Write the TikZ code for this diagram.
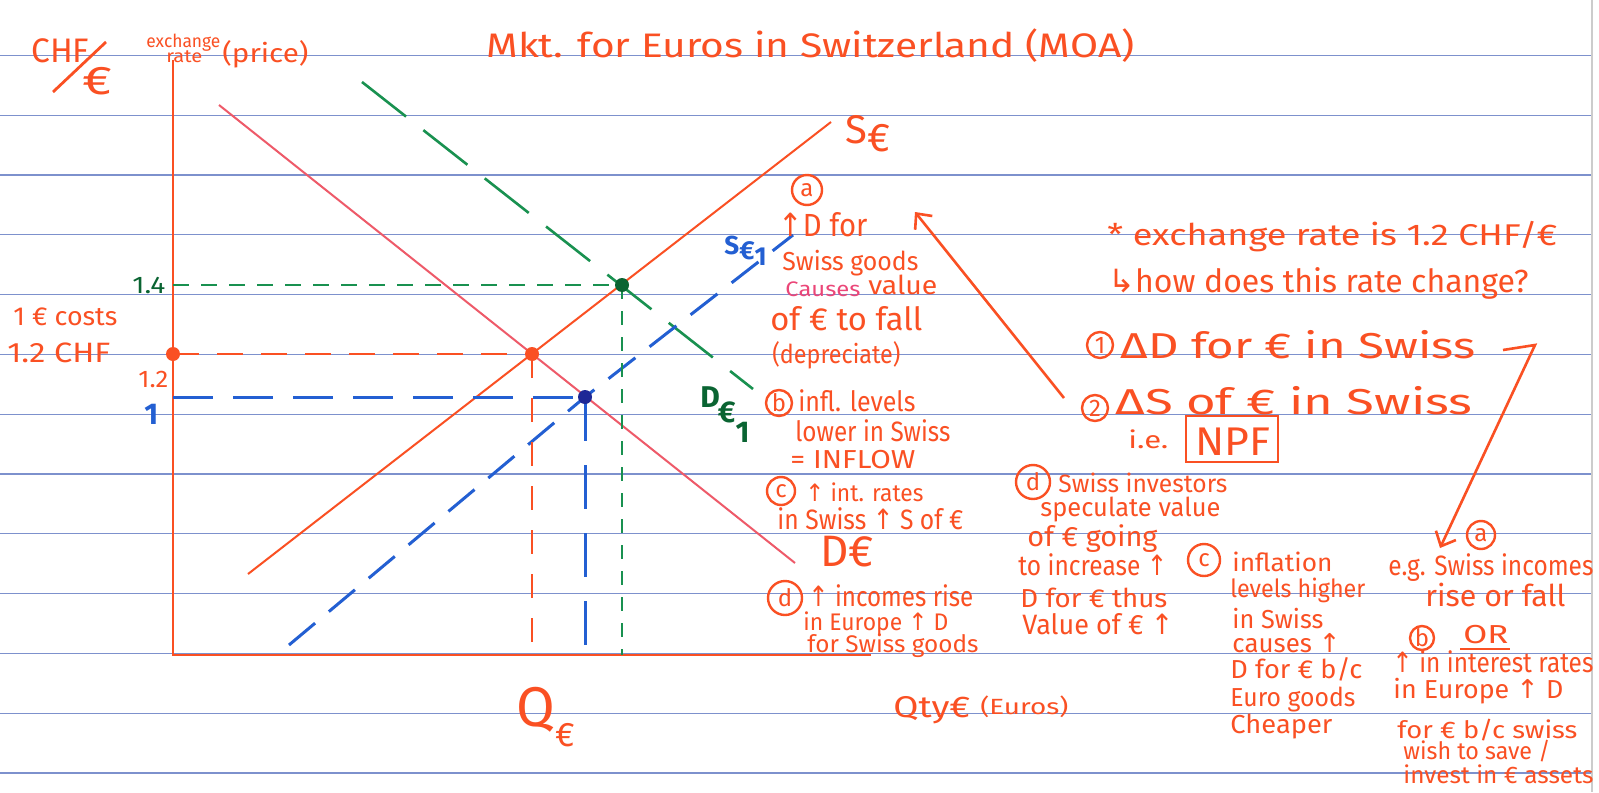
\documentclass[tikz,border=0pt]{standalone}
\usepackage{fontspec}
\setmainfont{Fira Sans}
\newfontfamily\dv{DejaVu Sans}
\usetikzlibrary{arrows.meta}
\definecolor{hred}{RGB}{250,80,35}
\definecolor{hpink}{RGB}{238,90,105}
\definecolor{hpinkt}{RGB}{235,70,120}
\definecolor{hgreen}{RGB}{25,145,80}
\definecolor{hdgreen}{RGB}{10,100,50}
\definecolor{hblue}{RGB}{35,95,210}
\definecolor{hdblue}{RGB}{30,40,150}
\definecolor{rulec}{RGB}{125,145,205}
\newcommand\up{\smash{\dv ↑}}
% name, x, baseline y, width (px), font size (pt), text
\newcommand\hwl[6]{\node[hand,anchor=base west] (#1) at (#2,#3) {\fontsize{#5}{#5}\selectfont\resizebox{\dimexpr#4pt/2\relax}{\height}{#6}};}
\begin{document}
\begin{tikzpicture}[x=0.5pt,y=-0.5pt,
  hand/.style={text=hred, inner sep=0pt},
  circ/.style={draw=hred, line width=1.2pt, circle, inner sep=0pt, text=hred, font=\fontsize{12}{12}\selectfont},
  curve/.style={line width=1pt},
  guide/.style={line width=1.2pt},
  tip/.style={-{Straight Barb[length=6pt,width=11pt,line width=1.3pt]}}]
\useasboundingbox[fill=white] (0,0) rectangle (1599,792);
% ruled paper
\foreach \k in {0,...,12}
  \draw[rulec, line width=0.6pt] (0,{55.4+59.8*\k}) -- (1592,{55.4+59.8*\k});
\draw[black!20, line width=0.8pt] (1592,0) -- (1592,792);

% axes
\coordinate (O) at (173,655);
\coordinate (Ytop) at (173,60);
\coordinate (Xend) at (871,655);
\draw[hred, line width=1.1pt] (Ytop) -- (O) -- (Xend);

% equilibrium points
\coordinate (E0) at (532,354);
\coordinate (E1) at (585,397);
\coordinate (E2) at (622,285);

% curves
\coordinate (Sa) at (248,574); \coordinate (Sb) at (831,122);
\coordinate (Da) at (219,105); \coordinate (Db) at (795,563);
\coordinate (D1a) at (362,82); \coordinate (D1b) at (753,389);
\coordinate (S1a) at (289,645); \coordinate (S1b) at (793,235);
\draw[hred, curve] (Sa) -- (Sb);
\draw[hpink, curve] (Da) -- (Db);
\draw[hgreen, line width=1.3pt, dash pattern=on 28pt off 11pt] (D1a) -- (D1b);
\draw[hblue, line width=1.5pt, dash pattern=on 17pt off 9pt] (S1a) -- (E1) -- (S1b);

% guides
\draw[hred, guide, dash pattern=on 13pt off 9pt] (E0 -| O) -- (E0);
\draw[hred, guide, dash pattern=on 12pt off 10pt] (E0) -- (E0 |- O);
\draw[hblue, guide, line width=1.5pt, dash pattern=on 20pt off 10pt] (E1 -| O) -- (E1);
\draw[hblue, guide, line width=1.5pt, dash pattern=on 22pt off 12pt] (E1) -- (E1 |- O);
\draw[hgreen, guide, dash pattern=on 8pt off 6pt] (E2 -| O) -- (E2);
\draw[hgreen, guide, line width=1pt, dash pattern=on 7pt off 6pt] (E2) -- (E2 |- O);

% dots
\fill[hred] (E0 -| O) circle (3.5pt);
\fill[hred] (E0) circle (3.5pt);
\fill[hdblue] (E1) circle (3.5pt);
\fill[hdgreen] (E2) circle (3.5pt);

% title and axis labels
\hwl{title}{486}{58}{648}{17}{Mkt. for Euros in Switzerland (MOA)}
\hwl{chf}{31}{63}{58}{17}{CHF}
\draw[hred, line width=1.4pt] (53,92) -- (106,42);
\hwl{chfeur}{82}{95}{30}{20}{€}
\hwl{exch}{146}{48}{74}{9}{exchange}
\hwl{rate}{166}{63}{36}{9}{rate}
\hwl{price}{222}{62}{86}{13}{(price)}
\hwl{onefour}{132}{293}{33}{12}{\color{hdgreen}1.4}
\hwl{costs}{13}{325}{104}{13}{1 € costs}
\hwl{onetwochf}{7}{362}{103}{14}{1.2 CHF}
\hwl{onetwo}{138}{387}{30}{12}{1.2}
\node[hand, anchor=base west, text=hblue, font=\fontsize{15}{15}\selectfont\bfseries] (one) at (144,424) {1};

% curve labels
\node[hand, anchor=base west, font=\fontsize{20}{20}\selectfont] (Slab) at (845,143) {S\raisebox{-0.4ex}{€}};
\node[hand, anchor=base west, font=\fontsize{22}{22}\selectfont] (Dlab) at (820,566) {D€};
\node[hand, anchor=base west, text=hblue, font=\fontsize{13}{13}\selectfont\bfseries] (S1lab) at (724,254) {S\raisebox{-0.4ex}{€\raisebox{-0.4ex}{1}}};
\node[hand, anchor=base west, text=hdgreen, font=\fontsize{15}{15}\selectfont\bfseries] (D1lab) at (700,407) {D\kern-1pt\raisebox{-1ex}{€}\raisebox{-2.2ex}{1}};
\node[hand, anchor=base west, font=\fontsize{28}{28}\selectfont] (Qlab) at (516,726) {Q\raisebox{-0.7ex}{\fontsize{17}{17}\selectfont €}};
\hwl{qty}{893}{717}{77}{15}{Qty€}
\hwl{euros}{980}{714}{88}{11}{(Euros)}

% middle notes column
\node[circ, minimum size=15pt] (ca) at (807,190) {a};
\hwl{a1}{778}{236}{89}{16}{\up D for}
\hwl{a2}{782}{270}{136}{13}{Swiss goods}
\hwl{a3}{785}{296}{75}{10.5}{\color{hpinkt}Causes}
\hwl{a4}{868}{294}{69}{13}{value}
\hwl{a5}{770}{330}{152}{16}{of € to fall}
\hwl{a6}{772}{363}{128}{13}{(depreciate)}
\node[circ, minimum size=13pt] (cb) at (779,403) {b};
\hwl{b1}{798}{411}{117}{14}{infl. levels}
\hwl{b2}{795}{441}{155}{14}{lower in Swiss}
\hwl{b3}{790}{468}{125}{13}{= INFLOW}
\node[circ, minimum size=14pt] (cc) at (781,491) {c};
\hwl{c1}{805}{501}{118}{12}{\up\ int. rates}
\hwl{c2}{777}{529}{186}{14}{in Swiss \up\ S of €}
\node[circ, minimum size=17pt] (cd) at (785,598) {d};
\hwl{d1}{808}{606}{165}{14}{\up\ incomes rise}
\hwl{d2}{803}{630}{145}{12}{in Europe \up\ D}
\hwl{d3}{807}{652}{171}{12}{for Swiss goods}

% second column
\node[circ, minimum size=17pt] (cd2) at (1033,482) {d};
\hwl{e1}{1058}{492}{169}{12.5}{Swiss investors}
\hwl{e2}{1040}{516}{180}{13}{speculate value}
\hwl{e3}{1027}{546}{130}{14}{of € going}
\hwl{e4}{1018}{575}{149}{14}{to increase \up}
\hwl{e5}{1020}{607}{147}{13}{D for € thus}
\hwl{e6}{1022}{634}{151}{14}{Value of € \up}
\node[circ, minimum size=16pt] (cc2) at (1204,560) {c};
\hwl{f1}{1232}{571}{100}{12.5}{inflation}
\hwl{f2}{1230}{597}{135}{12.5}{levels higher}
\hwl{f3}{1232}{628}{91}{13}{in Swiss}
\hwl{f4}{1232}{652}{108}{13}{causes \up}
\hwl{f5}{1230}{678}{132}{13}{D for € b/c}
\hwl{f6}{1230}{706}{125}{13}{Euro goods}
\hwl{f7}{1230}{733}{102}{13}{Cheaper}

% right column
\hwl{r1}{1107}{245}{450}{15}{* exchange rate is 1.2 CHF/€}
\hwl{r2}{1108}{292}{420}{16}{{\dv ↳}how does this rate change?}
\node[circ, minimum size=13pt] (c1) at (1100,345) {1};
\hwl{r3}{1120}{358}{355}{18}{ΔD for € in Swiss}
\node[circ, minimum size=13pt] (c2) at (1095,408) {2};
\hwl{r4}{1115}{414}{357}{18}{ΔS of € in Swiss}
\hwl{r5}{1128}{448}{40}{12}{i.e.}
\node[draw=hred, line width=1.2pt, minimum width=46pt, minimum height=23pt, inner sep=0pt] (npfbox) at (1232,439) {};
\hwl{npf}{1195}{455}{75}{20}{NPF}
\node[circ, minimum size=14pt] (ca2) at (1481,535) {a};
\hwl{g1}{1388}{575}{205}{14}{e.g. Swiss incomes}
\hwl{g2}{1425}{606}{140}{15}{rise or fall}
\node[circ, minimum size=12pt] (cb2) at (1422,638) {b};
\hwl{g3}{1463}{643}{45}{13}{OR}
\draw[hred, line width=1.1pt] (1460,649) -- (1510,649);
\hwl{g4}{1392}{672}{201}{14}{\up\ in interest rates}
\hwl{g5}{1393}{698}{170}{13}{in Europe \up\ D}
\hwl{g6}{1397}{738}{180}{12}{for € b/c swiss}
\hwl{g7}{1403}{759}{147}{12}{wish to save /}
\hwl{g8}{1403}{783}{190}{12}{invest in € assets}

% arrows
\coordinate (A1s) at (1064,398);
\coordinate (A1e) at (915,212);
\draw[hred, line width=1.3pt, tip] (A1s) -- (A1e);
\coordinate (A2s) at (1503,350);
\coordinate (A2m) at (1535,345);
\coordinate (A2e) at (1440,548);
\draw[hred, line width=1.3pt, tip] (A2s) -- (A2m) -- (A2e);
\end{tikzpicture}
\end{document}
